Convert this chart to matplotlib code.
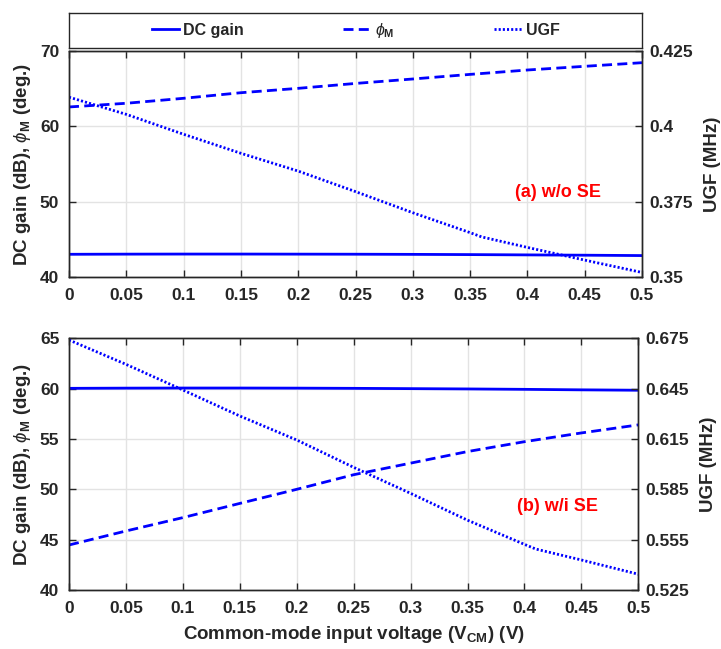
import matplotlib
matplotlib.use("Agg")
import matplotlib.pyplot as plt
from matplotlib.lines import Line2D
from matplotlib.ticker import FixedLocator, FuncFormatter

plt.rcParams["font.family"] = ["Liberation Sans", "DejaVu Sans"]
plt.rcParams["font.weight"] = "bold"
plt.rcParams["axes.labelweight"] = "bold"
plt.rcParams["mathtext.fontset"] = "custom"
plt.rcParams["mathtext.rm"] = "Liberation Sans:bold"
plt.rcParams["mathtext.it"] = "Liberation Sans:style=italic:weight=normal"
plt.rcParams["mathtext.bf"] = "Liberation Sans:bold"

# ---- data -------------------------------------------------------------
vcm = [0.0, 0.05, 0.1, 0.15, 0.2, 0.25, 0.3, 0.35, 0.4, 0.45, 0.5]

# (a) without SE
gain_a = [43.05, 43.07, 43.08, 43.08, 43.07, 43.06, 43.04, 43.01, 42.97, 42.93, 42.88]
phase_a = [62.58, 63.07, 63.73, 64.47, 65.05, 65.70, 66.29, 66.90, 67.48, 67.97, 68.45]
vcm_ugf_a = [0.0, 0.05, 0.1, 0.15, 0.2, 0.25, 0.3, 0.35, 0.36, 0.4, 0.45, 0.5]
ugf_a = [0.4097, 0.4040, 0.3974, 0.3911, 0.3852, 0.3784, 0.3714, 0.3648, 0.3634,
         0.3599, 0.3557, 0.3516]

# (b) with SE
gain_b = [60.03, 60.05, 60.06, 60.06, 60.05, 60.03, 60.00, 59.97, 59.93, 59.88, 59.84]
phase_b = [44.47, 45.86, 47.19, 48.60, 50.00, 51.45, 52.60, 53.75, 54.73, 55.60, 56.40]
vcm_ugf_b = [0.0, 0.05, 0.1, 0.15, 0.2, 0.25, 0.3, 0.35, 0.4, 0.41, 0.45, 0.5]
ugf_b = [0.6740, 0.6595, 0.6442, 0.6287, 0.6144, 0.5981, 0.5826, 0.5666, 0.5522,
         0.5494, 0.5429, 0.5344]

x_ticks = [0, 0.05, 0.1, 0.15, 0.2, 0.25, 0.3, 0.35, 0.4, 0.45, 0.5]
left_ticks_a = [40, 50, 60, 70]
right_ticks_a = [0.35, 0.375, 0.4, 0.425]
left_ticks_b = [40, 45, 50, 55, 60, 65]
right_ticks_b = [0.525, 0.555, 0.585, 0.615, 0.645, 0.675]

# ---- styling ----------------------------------------------------------
BLUE = "#0000ff"
DARK = "#262626"
GRID = "#e3e3e3"
LW = 2.0
DASH = (0, (3.6, 1.9))
DOT = (0, (0.75, 0.75))
TICK_FS = 12.5
LABEL_FS = 13.5

phase_label = r"DC gain (dB), $\phi_{\mathbf{M}}$ (deg.)"
fmt = FuncFormatter(lambda v, pos: "%g" % v)

fig = plt.figure(figsize=(7.21, 6.49), dpi=100)

W, H = 721.0, 649.0


def make_panel(rect_px, gain, phase, x_ugf, ugf, lticks, rticks, note):
    l, t, r, b = rect_px
    ax = fig.add_axes([l / W, 1 - b / H, (r - l) / W, (b - t) / H])
    ax2 = ax.twinx()

    ax.plot(vcm, gain, color=BLUE, lw=LW, ls="-")
    ax.plot(vcm, phase, color=BLUE, lw=LW, ls=DASH)
    ax2.plot(x_ugf, ugf, color=BLUE, lw=LW, ls=DOT)

    ax.set_xlim(x_ticks[0], x_ticks[-1])
    ax.set_ylim(lticks[0], lticks[-1])
    ax2.set_ylim(rticks[0], rticks[-1])

    ax.xaxis.set_major_locator(FixedLocator(x_ticks))
    ax.xaxis.set_major_formatter(fmt)
    ax.yaxis.set_major_locator(FixedLocator(lticks))
    ax.yaxis.set_major_formatter(fmt)
    ax2.yaxis.set_major_locator(FixedLocator(rticks))
    ax2.yaxis.set_major_formatter(fmt)

    ax.grid(True, color=GRID, lw=1.0)
    ax.set_axisbelow(True)

    ax.tick_params(axis="x", direction="in", length=5, width=1.0, top=True,
                   colors=DARK, labelsize=TICK_FS, pad=8)
    ax.tick_params(axis="y", direction="in", length=5, width=1.0, colors=DARK,
                   labelsize=TICK_FS, pad=7)
    ax2.tick_params(axis="y", direction="in", length=5, width=1.0, colors=DARK,
                    labelsize=TICK_FS, pad=5)
    for a in (ax, ax2):
        for s in a.spines.values():
            s.set_color(DARK)
            s.set_linewidth(1.0)

    ax.set_ylabel(phase_label, fontsize=LABEL_FS, color=DARK, labelpad=5)
    ax2.set_ylabel("UGF (MHz)", fontsize=LABEL_FS, color=DARK, labelpad=8)
    ax.text(note[0], note[1], note[2], color="red", fontsize=13,
            fontweight="bold", ha="center", va="center")
    return ax, ax2


ax_a, ax2_a = make_panel((69, 51, 642, 277.3), gain_a, phase_a, vcm_ugf_a, ugf_a,
                         left_ticks_a, right_ticks_a, (0.427, 51.3, "(a) w/o SE"))
ax_b, ax2_b = make_panel((69, 338.3, 638.3, 590), gain_b, phase_b, vcm_ugf_b, ugf_b,
                         left_ticks_b, right_ticks_b, (0.429, 48.25, "(b) w/i SE"))

ax_b.set_xlabel(r"Common-mode input voltage (V$_{\mathbf{CM}}$) (V)",
                fontsize=LABEL_FS, color=DARK, labelpad=6)

# ---- legend box above the panels --------------------------------------
box_l, box_t, box_r, box_b = 69, 13, 642, 48
ax_leg = fig.add_axes([box_l / W, 1 - box_b / H, (box_r - box_l) / W, (box_b - box_t) / H])
ax_leg.set_xticks([])
ax_leg.set_yticks([])
for s in ax_leg.spines.values():
    s.set_color(DARK)
    s.set_linewidth(1.0)

handles = [
    Line2D([], [], color=BLUE, lw=LW, ls="-"),
    Line2D([], [], color=BLUE, lw=LW, ls=DASH),
    Line2D([], [], color=BLUE, lw=LW, ls=DOT),
]
labels = ["DC gain", r"$\phi_{\mathbf{M}}$", "UGF"]
leg = ax_leg.legend(handles, labels, loc="center", ncol=3, frameon=False,
                    fontsize=11.5, handlelength=1.75, handletextpad=0.25,
                    columnspacing=6.2, borderaxespad=0)
for txt in leg.get_texts():
    txt.set_color(DARK)

fig.savefig("out.png", dpi=100)
